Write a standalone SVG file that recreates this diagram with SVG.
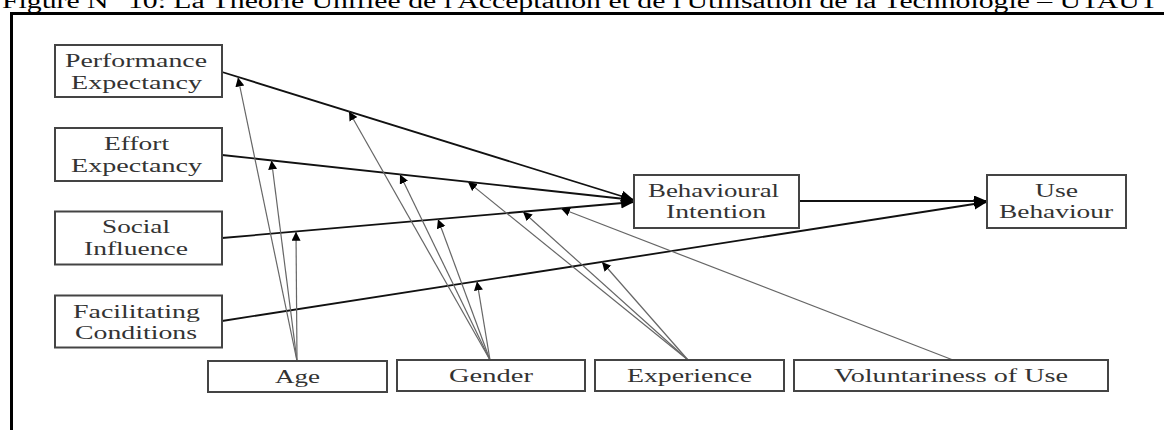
<svg xmlns="http://www.w3.org/2000/svg" width="1164" height="430" viewBox="0 0 1164 430">
<style>
  .box { fill: #fff; stroke: #444; stroke-width: 2; }
  .lbl { font-family: "Liberation Serif", "Times New Roman", serif; font-size: 18px; fill: #333; }
  .title { font-family: "Liberation Serif", "Times New Roman", serif; font-size: 20px; fill: #000; }
  .main { stroke: #111; stroke-width: 1.8; fill: none; }
  .mod { stroke: #666; stroke-width: 1.2; fill: none; }
  .frame { stroke: #000; stroke-width: 3; fill: none; }
</style>
<defs>
  <marker id="arrMain" markerUnits="userSpaceOnUse" markerWidth="14" markerHeight="12" refX="13" refY="5.5" orient="auto">
    <path d="M0,0 L13,5.5 L0,11 z" fill="#000"/>
  </marker>
  <marker id="arrMod" markerUnits="userSpaceOnUse" markerWidth="10" markerHeight="10" refX="9" refY="4.5" orient="auto">
    <path d="M0,0 L9,4.5 L0,9 z" fill="#000"/>
  </marker>
</defs>
<rect width="1164" height="430" fill="#fff"/>
<text class="title" x="2" y="8" textLength="1156" lengthAdjust="spacingAndGlyphs">Figure N° 10: La Théorie Unifiée de l'Acceptation et de l'Utilisation de la Technologie – UTAUT</text>
<path class="frame" d="M11.5,430 L11.5,13.5 L1164,13.5"/>

<g id="connectors">
  <line class="main" x1="222" y1="72" x2="634" y2="200" marker-end="url(#arrMain)"/>
  <line class="main" x1="222" y1="155" x2="634" y2="200" marker-end="url(#arrMain)"/>
  <line class="main" x1="222" y1="238" x2="634" y2="202" marker-end="url(#arrMain)"/>
  <line class="main" x1="222" y1="321" x2="987" y2="202" marker-end="url(#arrMain)"/>
  <line class="main" x1="799" y1="201" x2="987" y2="201" marker-end="url(#arrMain)"/>

  <line class="mod" x1="297" y1="361" x2="238" y2="77.5" marker-end="url(#arrMod)"/>
  <line class="mod" x1="297" y1="361" x2="271.5" y2="160.5" marker-end="url(#arrMod)"/>
  <line class="mod" x1="297" y1="361" x2="296" y2="231.7" marker-end="url(#arrMod)"/>

  <line class="mod" x1="490" y1="360" x2="349" y2="111.5" marker-end="url(#arrMod)"/>
  <line class="mod" x1="490" y1="360" x2="400" y2="174.5" marker-end="url(#arrMod)"/>
  <line class="mod" x1="490" y1="360" x2="438" y2="219.2" marker-end="url(#arrMod)"/>
  <line class="mod" x1="490" y1="360" x2="477" y2="281.4" marker-end="url(#arrMod)"/>

  <line class="mod" x1="688" y1="360" x2="468" y2="181.9" marker-end="url(#arrMod)"/>
  <line class="mod" x1="688" y1="360" x2="523" y2="211.8" marker-end="url(#arrMod)"/>
  <line class="mod" x1="688" y1="360" x2="602" y2="262" marker-end="url(#arrMod)"/>

  <line class="mod" x1="953" y1="360" x2="561" y2="208.5" marker-end="url(#arrMod)"/>
</g>

<g id="performance-expectancy">
  <rect class="box" x="55" y="45" width="167" height="52"/>
  <text class="lbl" x="65" y="67" textLength="142" lengthAdjust="spacingAndGlyphs">Performance</text>
  <text class="lbl" x="71" y="89" textLength="131" lengthAdjust="spacingAndGlyphs">Expectancy</text>
</g>
<g id="effort-expectancy">
  <rect class="box" x="55" y="128" width="167" height="53"/>
  <text class="lbl" x="104" y="150" textLength="65" lengthAdjust="spacingAndGlyphs">Effort</text>
  <text class="lbl" x="71" y="172" textLength="131" lengthAdjust="spacingAndGlyphs">Expectancy</text>
</g>
<g id="social-influence">
  <rect class="box" x="55" y="211.5" width="167" height="53"/>
  <text class="lbl" x="102" y="233" textLength="68" lengthAdjust="spacingAndGlyphs">Social</text>
  <text class="lbl" x="84" y="255" textLength="104" lengthAdjust="spacingAndGlyphs">Influence</text>
</g>
<g id="facilitating-conditions">
  <rect class="box" x="55" y="295.5" width="167" height="52"/>
  <text class="lbl" x="73" y="318" textLength="127" lengthAdjust="spacingAndGlyphs">Facilitating</text>
  <text class="lbl" x="75" y="339" textLength="122" lengthAdjust="spacingAndGlyphs">Conditions</text>
</g>
<g id="behavioural-intention">
  <rect class="box" x="634" y="175" width="165" height="53"/>
  <text class="lbl" x="648" y="197" textLength="131" lengthAdjust="spacingAndGlyphs">Behavioural</text>
  <text class="lbl" x="666" y="218" textLength="100" lengthAdjust="spacingAndGlyphs">Intention</text>
</g>
<g id="use-behaviour">
  <rect class="box" x="987" y="175" width="139" height="53"/>
  <text class="lbl" x="1035" y="197" textLength="43" lengthAdjust="spacingAndGlyphs">Use</text>
  <text class="lbl" x="999" y="218" textLength="114" lengthAdjust="spacingAndGlyphs">Behaviour</text>
</g>
<g id="age">
  <rect class="box" x="208" y="361" width="179" height="31"/>
  <text class="lbl" x="275" y="383" textLength="45" lengthAdjust="spacingAndGlyphs">Age</text>
</g>
<g id="gender">
  <rect class="box" x="397" y="360" width="188" height="31"/>
  <text class="lbl" x="449" y="382" textLength="84" lengthAdjust="spacingAndGlyphs">Gender</text>
</g>
<g id="experience">
  <rect class="box" x="595" y="360" width="189" height="31"/>
  <text class="lbl" x="627" y="382" textLength="125" lengthAdjust="spacingAndGlyphs">Experience</text>
</g>
<g id="voluntariness-of-use">
  <rect class="box" x="794" y="360" width="314" height="31"/>
  <text class="lbl" x="834" y="382" textLength="234" lengthAdjust="spacingAndGlyphs">Voluntariness of Use</text>
</g>
</svg>
